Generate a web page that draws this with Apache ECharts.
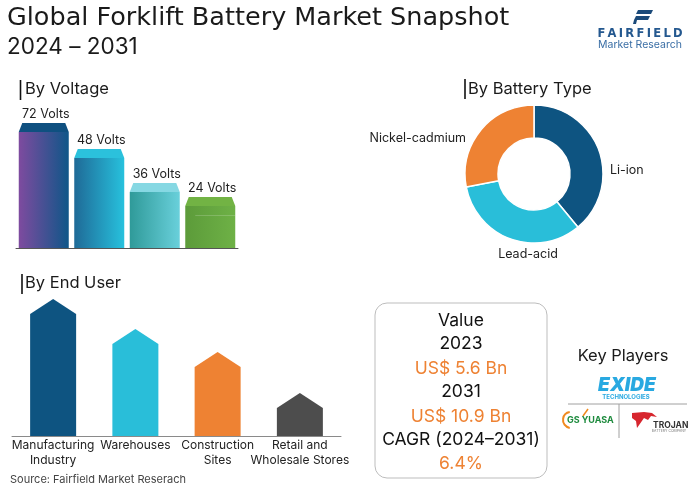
<!DOCTYPE html>
<html><head><meta charset="utf-8">
<script src="https://cdn.jsdelivr.net/npm/echarts@6/dist/echarts.min.js"></script>
<style>html,body{margin:0;padding:0;background:#fff}#c{width:700px;height:491px}</style>
</head><body><div id="c"></div>
<script>
// ---- data ----
const voltageCats = ['72 Volts', '48 Volts', '36 Volts', '24 Volts'];
const voltageValues = [125, 99, 65, 51];
const batteryTypes = ['Li-ion', 'Lead-acid', 'Nickel-cadmium'];
const batteryShares = [39, 33, 28];
const endUserCats = ['Manufacturing\nIndustry', 'Warehouses', 'Construction\nSites', 'Retail and\nWholesale Stores'];
const endUserValues = [137, 107, 84, 43];
const valueLines = ['Value', '2023', 'US$ 5.6 Bn', '2031', 'US$ 10.9 Bn', 'CAGR (2024–2031)', '6.4%'];

// ---- styles ----
const F = 'Inter, "Noto Sans", sans-serif';
const FW = '"DejaVu Sans", Inter, sans-serif';
const vColors = [
  ['#7E4B9F', '#0F5688', '#0F5080'],
  ['#1F6A97', '#27C1DD', '#2BC1DC'],
  ['#2F9A99', '#69D0DB', '#86D8E3'],
  ['#5C9B3A', '#6EB146', '#72B344']
];
const pieColors = ['#0E5481', '#29BED9', '#EE8233'];
const euColors = ['#0E5481', '#29BED9', '#EE8233', '#4D4D4D'];
const ORANGE = '#EE8233';

function T(text, x, y, size, color, o) {
  o = o || {};
  return {
    type: 'text', x: x, y: y, z: 20,
    style: Object.assign({
      text: text, x: 0, y: 0, fontSize: size, fontFamily: o.font || F, fill: color,
      align: o.align || 'left', textAlign: o.align || 'left',
      verticalAlign: 'middle', textVerticalAlign: 'middle',
      fontWeight: o.weight || 'normal'
    }, o.extra || {})
  };
}
function bar(x, y1, y2) {
  return { type: 'line', z: 20, shape: { x1: x, y1: y1, x2: x, y2: y2 }, style: { stroke: '#111', lineWidth: 1.6 } };
}

const graphics = [
  T('Global Forklift Battery Market Snapshot', 7, 18, 25.5, '#1a1a1a', { font: FW }),
  T('2024 – 2031', 7, 47, 22.5, '#1a1a1a'),
  // Fairfield logo
  { type: 'polygon', z: 20, shape: { points: [[638, 10], [653, 10], [651, 14], [636, 14]] }, style: { fill: '#1B4A7A' } },
  { type: 'polygon', z: 20, shape: { points: [[636, 16], [650, 16], [648, 20], [634, 20]] }, style: { fill: '#1B4A7A' } },
  { type: 'polygon', z: 20, shape: { points: [[634, 20], [637, 20], [636, 24], [633, 24]] }, style: { fill: '#1B4A7A' } },
  T('F\u2009A\u2009I\u2009R\u2009F\u2009I\u2009E\u2009L\u2009D', 640, 34, 11.5, '#24588F', { align: 'center', weight: 'bold', font: FW }),
  T('Market Research', 640, 45, 10.5, '#3A6EA5', { align: 'center' }),
  // section headings
  bar(20.5, 80, 100), T('By Voltage', 25, 89, 16.5, '#1a1a1a'),
  bar(465, 79, 99), T('By Battery Type', 468, 89, 16.5, '#1a1a1a'),
  bar(22, 274, 294), T('By End User', 25, 283, 16.5, '#1a1a1a'),
  // value box
  { type: 'rect', z: 15, shape: { x: 375, y: 303, width: 172, height: 175, r: 12 }, style: { fill: '#fff', stroke: '#BDBDBD', lineWidth: 1 } },
  T(valueLines[0], 461, 321, 17.5, '#111', { align: 'center' }),
  T(valueLines[1], 461, 344, 17.5, '#111', { align: 'center' }),
  T(valueLines[2], 461, 369, 17.5, ORANGE, { align: 'center' }),
  T(valueLines[3], 461, 392, 17.5, '#111', { align: 'center' }),
  T(valueLines[4], 461, 417, 17.5, ORANGE, { align: 'center' }),
  T(valueLines[5], 461, 440, 17.5, '#111', { align: 'center' }),
  T(valueLines[6], 461, 464, 17.5, ORANGE, { align: 'center' }),
  // key players
  T('Key Players', 623, 356, 16.5, '#1a1a1a', { align: 'center' }),
  T('EXIDE', 627, 385, 19, '#29A9E1', { align: 'center', weight: 900, extra: { fontStyle: 'italic' } }),
  T('TECHNOLOGIES', 626, 397, 6, '#29A9E1', { align: 'center', weight: 'bold' }),
  { type: 'line', z: 20, shape: { x1: 568, y1: 404, x2: 687, y2: 404 }, style: { stroke: '#A0A0A0', lineWidth: 1 } },
  { type: 'line', z: 20, shape: { x1: 619, y1: 404, x2: 619, y2: 438 }, style: { stroke: '#A0A0A0', lineWidth: 1 } },
  { type: 'arc', z: 20, shape: { cx: 571, cy: 420, r: 8, startAngle: Math.PI * 0.55, endAngle: Math.PI * 1.45 }, style: { stroke: '#F08A1E', lineWidth: 2, fill: null } },
  { type: 'line', z: 20, shape: { x1: 583, y1: 416, x2: 588, y2: 409 }, style: { stroke: '#F08A1E', lineWidth: 1.5 } },
  T('GS YUASA', 567, 420, 9, '#1E8B3E', { weight: 'bold' }),
  { type: 'polygon', z: 20, shape: { points: [[632, 413], [644, 412], [652, 413], [657, 417], [651, 416], [648, 420], [644, 418], [637, 428], [636, 421], [632, 418]] }, style: { fill: '#D7262E' } },
  T('TROJAN', 653, 425, 8.5, '#333', { weight: 'bold' }),
  T('BATTERY COMPANY', 669, 431, 3.5, '#777', { align: 'center' }),
  // source
  T('Source: Fairfield Market Reserach', 10, 480, 11, '#444')
];

const chart = echarts.init(document.getElementById('c'), null, { renderer: 'canvas' });
chart.setOption({
  backgroundColor: '#fff',
  animation: false,
  grid: [
    { left: 16, width: 222, top: 48, height: 200 },
    { left: 12, width: 329, top: 286, height: 150 }
  ],
  xAxis: [
    { gridIndex: 0, type: 'category', data: voltageCats, axisLine: { lineStyle: { color: '#555', width: 1 } }, axisTick: { show: false }, axisLabel: { show: false } },
    { gridIndex: 1, type: 'category', data: endUserCats, axisLine: { lineStyle: { color: '#8A8A8A', width: 1 } }, axisTick: { show: false },
      axisLabel: { interval: 0, margin: 2, fontSize: 12, lineHeight: 15, color: '#222', fontFamily: F } }
  ],
  yAxis: [
    { gridIndex: 0, type: 'value', min: 0, max: 200, show: false },
    { gridIndex: 1, type: 'value', min: 0, max: 150, show: false }
  ],
  series: [
    {
      type: 'custom', xAxisIndex: 0, yAxisIndex: 0,
      data: voltageValues.map((v, i) => [i, v]),
      encode: { x: 0, y: 1 },
      renderItem: function (params, api) {
        const i = api.value(0), v = api.value(1);
        const top = api.coord([i, v]), base = api.coord([i, 0]);
        const w = 50, capH = 9, inset = 3.5, x0 = top[0] - w / 2;
        const c = vColors[i];
        const children = [
          { type: 'rect', shape: { x: x0, y: top[1] + capH, width: w, height: base[1] - top[1] - capH },
            style: { fill: new echarts.graphic.LinearGradient(0, 0, 1, 0, [{ offset: 0, color: c[0] }, { offset: 1, color: c[1] }]) } },
          { type: 'polygon', shape: { points: [[x0 + inset, top[1]], [x0 + w - inset, top[1]], [x0 + w, top[1] + capH], [x0, top[1] + capH]] },
            style: { fill: c[2] } },
          { type: 'text', x: top[0] + 2, y: top[1] - 8.5,
            style: { text: voltageCats[i], x: 0, y: 0, align: 'center', verticalAlign: 'middle', textAlign: 'center', textVerticalAlign: 'middle', fontSize: 12.5, fontFamily: F, fill: '#222' } }
        ];
        if (i === 3) {
          children.push({ type: 'line', shape: { x1: x0 + 10, y1: top[1] + capH + 9.5, x2: x0 + w, y2: top[1] + capH + 9.5 },
            style: { stroke: 'rgba(255,255,255,0.18)', lineWidth: 1 } });
        }
        return { type: 'group', children: children };
      }
    },
    {
      type: 'pie', center: [534, 174], radius: [36, 69], startAngle: 90, clockwise: true,
      itemStyle: { borderColor: '#fff', borderWidth: 1.5 },
      label: { show: true, position: 'outside', fontSize: 12.5, fontFamily: F, color: '#222', formatter: '{b}' },
      labelLine: { show: false },
      labelLayout: function (p) {
        const pos = [
          { x: 610, y: 170, align: 'left', verticalAlign: 'middle' },
          { x: 528, y: 254, align: 'center', verticalAlign: 'middle' },
          { x: 466, y: 138, align: 'right', verticalAlign: 'middle' }
        ];
        return pos[p.dataIndex];
      },
      data: batteryTypes.map((n, i) => ({ name: n, value: batteryShares[i], itemStyle: { color: pieColors[i] } }))
    },
    {
      type: 'custom', xAxisIndex: 1, yAxisIndex: 1,
      data: endUserValues.map((v, i) => [i, v]),
      encode: { x: 0, y: 1 },
      renderItem: function (params, api) {
        const i = api.value(0), v = api.value(1);
        const top = api.coord([i, v]), base = api.coord([i, 0]);
        const w = 46, sh = 15, x0 = top[0] - w / 2, x1 = top[0] + w / 2;
        return {
          type: 'polygon',
          shape: { points: [[x0, base[1]], [x0, top[1] + sh], [top[0], top[1]], [x1, top[1] + sh], [x1, base[1]]] },
          style: { fill: euColors[i] }
        };
      }
    }
  ],
  graphic: graphics
});
</script>
</body></html>
